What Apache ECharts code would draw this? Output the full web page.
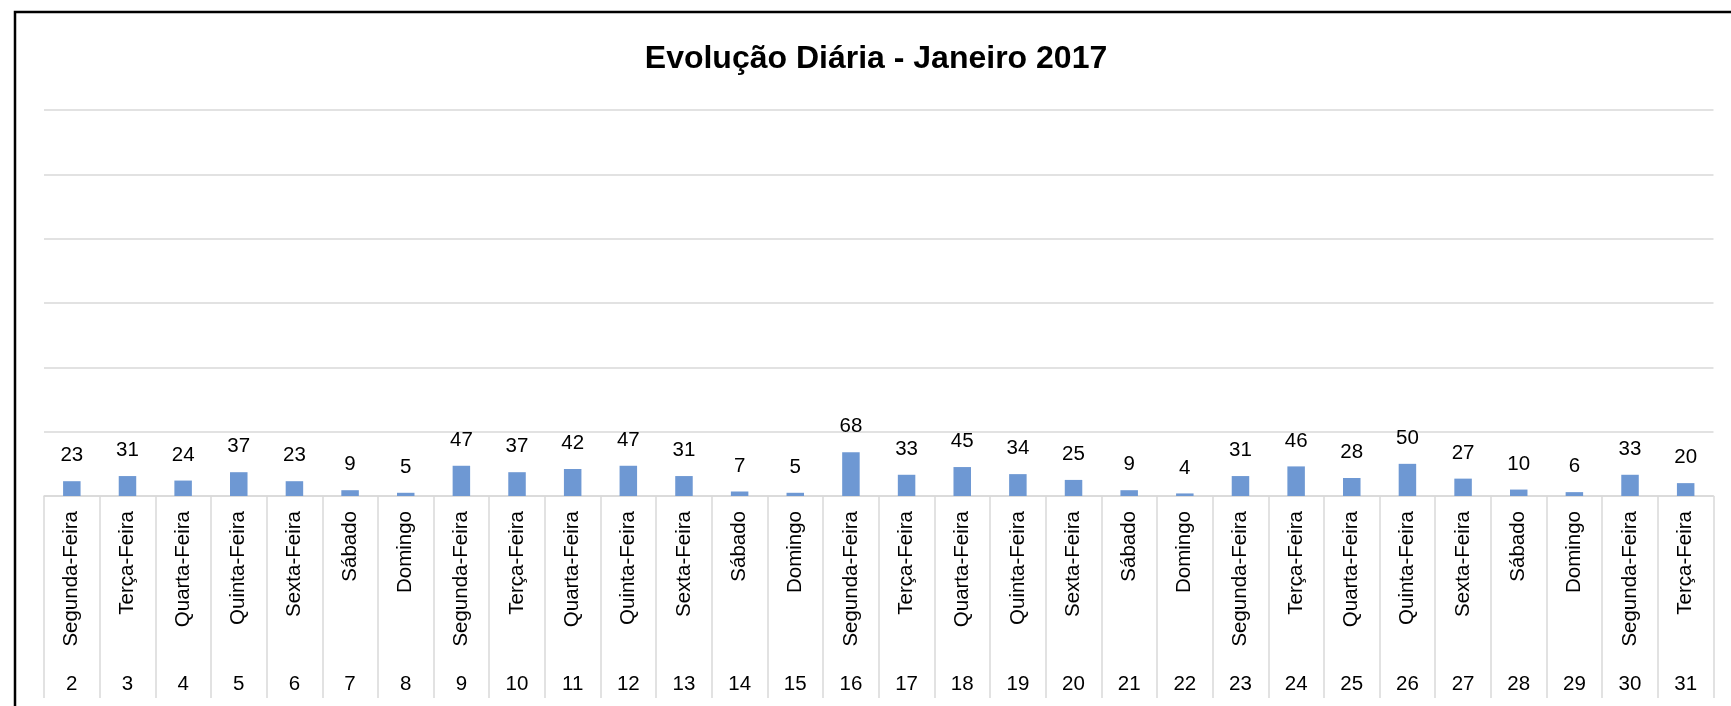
<!DOCTYPE html>
<html>
<head>
<meta charset="utf-8">
<script src="https://cdn.jsdelivr.net/npm/echarts@6/dist/echarts.min.js"></script>
<style>
html,body{margin:0;padding:0;background:#fff;}
#chart{width:1731px;height:706px;}
</style>
</head>
<body>
<div id="chart"></div>
<script>
const dayNumbers = ['2','3','4','5','6','7','8','9','10','11','12','13','14','15','16','17','18','19','20','21','22','23','24','25','26','27','28','29','30','31'];
const weekdays = ['Segunda-Feira','Terça-Feira','Quarta-Feira','Quinta-Feira','Sexta-Feira','Sábado','Domingo',
  'Segunda-Feira','Terça-Feira','Quarta-Feira','Quinta-Feira','Sexta-Feira','Sábado','Domingo',
  'Segunda-Feira','Terça-Feira','Quarta-Feira','Quinta-Feira','Sexta-Feira','Sábado','Domingo',
  'Segunda-Feira','Terça-Feira','Quarta-Feira','Quinta-Feira','Sexta-Feira','Sábado','Domingo',
  'Segunda-Feira','Terça-Feira'];
const values = [23,31,24,37,23,9,5,47,37,42,47,31,7,5,68,33,45,34,25,9,4,31,46,28,50,27,10,6,33,20];
const titleText = 'Evolução Diária - Janeiro 2017';

const FONT = 'Liberation Sans';
const chart = echarts.init(document.getElementById('chart'), null, {renderer:'canvas'});
chart.setOption({
  backgroundColor:'#ffffff',
  animation:false,
  title:{
    text:titleText,
    left:871, top:38, textAlign:'center',
    textStyle:{fontFamily:FONT, fontWeight:'bold', fontSize:32, color:'#000'}
  },
  graphic:[{
    type:'rect', silent:true, z:100,
    shape:{x:15, y:12, width:1800, height:900},
    style:{fill:'none', stroke:'#000', lineWidth:2.5}
  }],
  grid:{left:44, right:17.5, top:110, bottom:210, containLabel:false},
  xAxis:[{
    type:'category', data:weekdays, position:'bottom',
    axisLine:{show:true, lineStyle:{color:'#d9d9d9', width:1.5}},
    axisTick:{show:true, length:202, lineStyle:{color:'#d9d9d9', width:1.5}},
    axisLabel:{interval:0, rotate:90, margin:15, fontFamily:FONT, fontSize:20.5, color:'#000'},
    splitLine:{show:false}
  },{
    type:'category', data:dayNumbers, position:'bottom', offset:170,
    axisLine:{show:false}, axisTick:{show:false},
    axisLabel:{interval:0, margin:8, fontFamily:FONT, fontSize:20.5, color:'#000'},
    splitLine:{show:false}
  }],
  yAxis:{
    type:'value', min:0, max:600, interval:100,
    axisLine:{show:false}, axisTick:{show:false}, axisLabel:{show:false},
    splitLine:{show:true, lineStyle:{color:'#d9d9d9', width:1.5}}
  },
  series:[{
    type:'bar', data:values, xAxisIndex:0, barWidth:17.5,
    itemStyle:{color:'#6e98d3'},
    label:{show:true, position:'top', distance:15, fontFamily:FONT, fontSize:20.5, color:'#000'}
  }]
});
</script>
</body>
</html>
